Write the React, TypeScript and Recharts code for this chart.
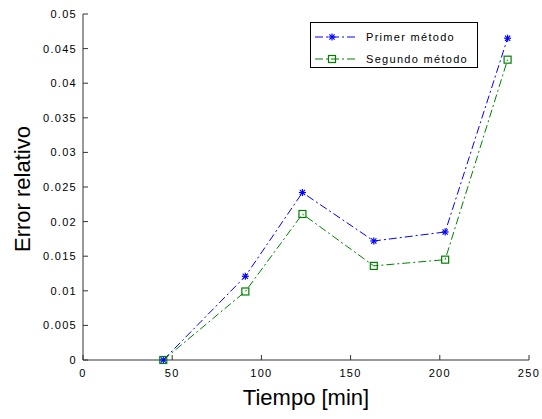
import React from "react";
import { LineChart, Line, XAxis, YAxis, Legend } from "recharts";

const tiempos = [45, 91, 123, 163, 203, 238];
const primerMetodo = [0, 0.0121, 0.0242, 0.0172, 0.0185, 0.0465];
const segundoMetodo = [0, 0.0099, 0.0211, 0.0136, 0.0145, 0.0434];
const xTicks = [0, 50, 100, 150, 200, 250];
const yTicks = [0, 0.005, 0.01, 0.015, 0.02, 0.025, 0.03, 0.035, 0.04, 0.045, 0.05];
const yTickLabels = ["0", "0.005", "0.01", "0.015", "0.02", "0.025", "0.03", "0.035", "0.04", "0.045", "0.05"];
const seriesNames = ["Primer método", "Segundo método"];
const xTitle = "Tiempo [min]";
const yTitle = "Error relativo";

const data = tiempos.map((t, i) => ({ t, primer: primerMetodo[i], segundo: segundoMetodo[i] }));

const FONT = '"Liberation Sans", Arial, Helvetica, sans-serif';
const BLUE = "#0000ff";
const GREEN = "#008000";
const AXIS = "#333333";
const DASH = "8 3 2 3";

const Star = (props: any) => {
  const { cx, cy } = props;
  if (cx == null || cy == null) return null;
  const r = 3.5;
  const d = 2.6;
  return (
    <g stroke={BLUE} strokeWidth={1.2}>
      <line x1={cx - r} y1={cy} x2={cx + r} y2={cy} />
      <line x1={cx} y1={cy - r} x2={cx} y2={cy + r} />
      <line x1={cx - d} y1={cy - d} x2={cx + d} y2={cy + d} />
      <line x1={cx - d} y1={cy + d} x2={cx + d} y2={cy - d} />
    </g>
  );
};

const Square = (props: any) => {
  const { cx, cy } = props;
  if (cx == null || cy == null) return null;
  const h = 3.5;
  return <rect x={cx - h} y={cy - h} width={2 * h} height={2 * h} fill="none" stroke={GREEN} strokeWidth={1.2} />;
};

const LegendBox = () => {
  const rows = [
    { name: seriesNames[0], color: BLUE, marker: "star" },
    { name: seriesNames[1], color: GREEN, marker: "square" },
  ];
  return (
    <div style={{ width: 168, height: 46, border: "1px solid #000", background: "#fff", boxSizing: "border-box", position: "relative" }}>
      {rows.map((r, i) => (
        <div key={r.name} style={{ position: "absolute", left: 0, top: 4 + i * 22, height: 20, width: 166, display: "flex", alignItems: "center" }}>
          <svg width={52} height={20} style={{ display: "block" }}>
            <line x1={4} y1={10} x2={46} y2={10} stroke={r.color} strokeWidth={1} strokeDasharray={DASH} />
            {r.marker === "star" ? <Star cx={21} cy={10} /> : <Square cx={21} cy={10} />}
          </svg>
          <span style={{ fontFamily: FONT, fontSize: 11, letterSpacing: 1.3, color: "#000", marginLeft: 3 }}>{r.name}</span>
        </div>
      ))}
    </div>
  );
};

const tickStyle = { fontFamily: FONT, fontSize: 11, letterSpacing: 1.3, fill: "#000" };

export default function App() {
  return (
    <div style={{ position: "absolute", left: 0, top: 0, width: 542, height: 419, background: "#fff" }}>
      <LineChart width={542} height={419} data={data} margin={{ top: 14, right: 13, bottom: 0, left: 0 }}>
        <XAxis
          xAxisId="bottom"
          dataKey="t"
          type="number"
          domain={[0, 250]}
          ticks={xTicks}
          height={59}
          stroke={AXIS}
          tickSize={-5}
          tickMargin={14}
          tick={tickStyle}
          allowDataOverflow
          label={(p: any) => {
            const vb = p.viewBox;
            return (
              <text x={vb.x + vb.width / 2} y={vb.y + 45} textAnchor="middle" fontFamily={FONT} fontSize={22} fill="#000">
                {xTitle}
              </text>
            );
          }}
        />
        <XAxis
          xAxisId="top"
          dataKey="t"
          type="number"
          orientation="top"
          domain={[0, 250]}
          ticks={xTicks}
          height={0}
          stroke={AXIS}
          tickSize={-5}
          tick={false}
        />
        <YAxis
          yAxisId="left"
          type="number"
          domain={[0, 0.05]}
          ticks={yTicks}
          width={83}
          stroke={AXIS}
          tickSize={-5}
          tickMargin={11}
          tick={tickStyle}
          tickFormatter={(v: number) => yTickLabels[yTicks.findIndex((t) => Math.abs(t - v) < 1e-9)] ?? String(v)}
          label={(p: any) => {
            const vb = p.viewBox;
            const x = vb.x + 22;
            const y = vb.y + vb.height / 2 + 2;
            return (
              <text x={x} y={y} transform={`rotate(-90 ${x} ${y})`} textAnchor="middle" dominantBaseline="central" fontFamily={FONT} fontSize={22} fill="#000">
                {yTitle}
              </text>
            );
          }}
        />
        <YAxis
          yAxisId="right"
          type="number"
          orientation="right"
          domain={[0, 0.05]}
          ticks={yTicks}
          width={0}
          stroke={AXIS}
          tickSize={-5}
          tick={false}
        />
        <Legend
          layout="vertical"
          align="center"
          verticalAlign="middle"
          content={() => <LegendBox />}
          wrapperStyle={{ left: 310, top: 22, width: 168, height: 46 }}
        />
        <Line
          xAxisId="bottom"
          yAxisId="left"
          type="linear"
          dataKey="primer"
          name={seriesNames[0]}
          stroke={BLUE}
          strokeWidth={1}
          strokeDasharray={DASH}
          dot={<Star />}
          activeDot={false}
          isAnimationActive={false}
        />
        <Line
          xAxisId="bottom"
          yAxisId="left"
          type="linear"
          dataKey="segundo"
          name={seriesNames[1]}
          stroke={GREEN}
          strokeWidth={1}
          strokeDasharray={DASH}
          dot={<Square />}
          activeDot={false}
          isAnimationActive={false}
        />
      </LineChart>
    </div>
  );
}
